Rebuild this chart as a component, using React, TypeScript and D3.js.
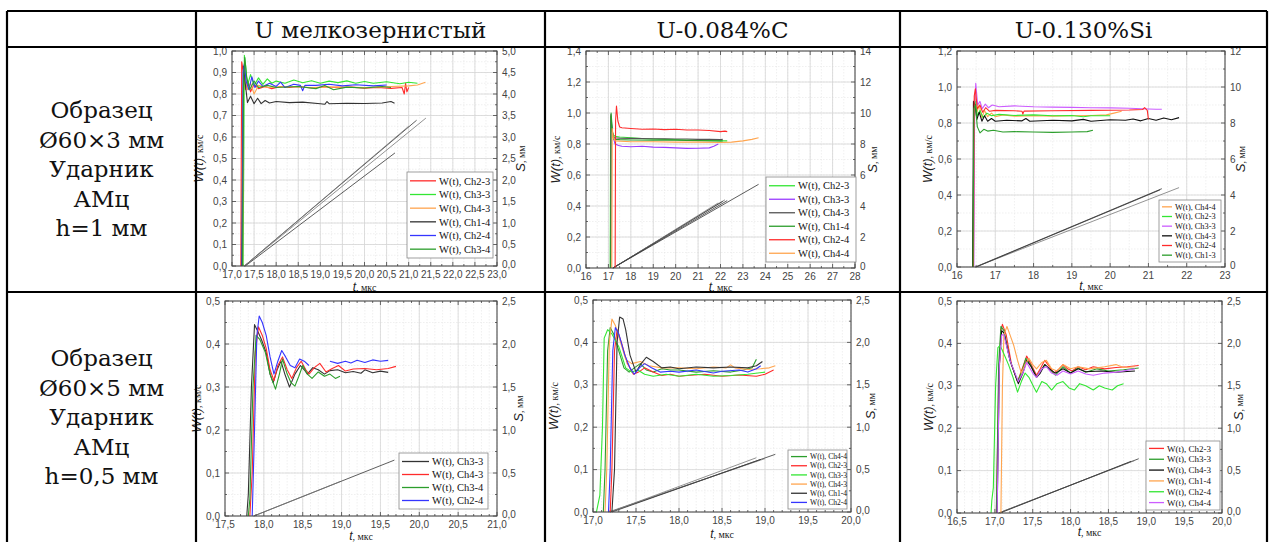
import React, { useRef, useEffect } from 'react';
import * as d3 from 'd3';

type Pt = [number, number];

// header / row captions
const columnTitles = ['U мелкозернистый', 'U-0.084%C', 'U-0.130%Si'];
const rowCaptions = [
  ['Образец', 'Ø60×3 мм', 'Ударник', 'АМц', 'h=1 мм'],
  ['Образец', 'Ø60×5 мм', 'Ударник', 'АМц', 'h=0,5 мм'],
];

// ---- panel 1: U fine grain, 60x3, h=1 ----
const p1Names = ['W(t), Ch2-3', 'W(t), Ch3-3', 'W(t), Ch4-3', 'W(t), Ch1-4', 'W(t), Ch2-4', 'W(t), Ch3-4'];
const p1Ch23: Pt[] = [[17.2,0],[17.21,0.5],[17.22,0.95],[17.26,0.9],[17.3,0.82],[17.36,0.86],[17.42,0.81],[17.5,0.845],[17.6,0.825],[17.75,0.835],[17.9,0.825],[18.1,0.835],[18.3,0.83],[18.5,0.835],[18.8,0.828],[19.1,0.834],[19.4,0.829],[19.7,0.832],[20.0,0.827],[20.3,0.83],[20.6,0.826],[20.85,0.83],[20.9,0.8],[20.93,0.85],[20.96,0.81],[21.0,0.83]];
const p1Ch33: Pt[] = [[17.25,0],[17.27,0.6],[17.28,0.98],[17.31,0.93],[17.35,0.84],[17.42,0.89],[17.5,0.84],[17.6,0.875],[17.7,0.845],[17.8,0.87],[17.9,0.85],[18.0,0.86],[18.2,0.85],[18.4,0.865],[18.6,0.852],[18.8,0.862],[19.0,0.85],[19.2,0.86],[19.4,0.853],[19.6,0.861],[19.8,0.85],[20.0,0.858],[20.2,0.85],[20.5,0.857],[20.8,0.848],[21.0,0.855],[21.2,0.85]];
const p1Ch43: Pt[] = [[17.24,0],[17.26,0.9],[17.3,0.88],[17.35,0.82],[17.42,0.85],[17.5,0.8],[17.6,0.84],[17.8,0.83],[18.2,0.835],[18.8,0.83],[19.4,0.833],[20.0,0.83],[20.6,0.835],[21.0,0.838],[21.2,0.842],[21.38,0.855]];
const p1Ch14: Pt[] = [[17.22,0],[17.24,0.5],[17.26,0.93],[17.3,0.85],[17.35,0.76],[17.42,0.79],[17.5,0.755],[17.58,0.78],[17.66,0.755],[17.75,0.77],[17.85,0.758],[18.0,0.765],[18.3,0.76],[18.6,0.762],[19.0,0.755],[19.1,0.752],[19.15,0.765],[19.2,0.755],[19.6,0.757],[20.0,0.756],[20.4,0.758],[20.6,0.765],[20.68,0.757]];
const p1Ch24: Pt[] = [[17.23,0],[17.25,0.9],[17.28,0.94],[17.32,0.86],[17.38,0.82],[17.45,0.88],[17.52,0.83],[17.6,0.86],[17.7,0.835],[17.85,0.85],[18.0,0.835],[18.1,0.855],[18.2,0.83],[18.4,0.845],[18.55,0.84],[18.6,0.815],[18.65,0.84],[18.9,0.84],[19.2,0.845],[19.5,0.838],[19.8,0.843],[20.2,0.838],[20.5,0.842]];
const p1Ch34: Pt[] = [[17.24,0],[17.26,0.85],[17.29,0.97],[17.33,0.88],[17.4,0.82],[17.5,0.86],[17.6,0.83],[17.8,0.84],[18.0,0.83],[18.5,0.835],[18.9,0.825],[19.1,0.84],[19.3,0.82],[19.6,0.832],[20.0,0.828],[20.4,0.835],[20.6,0.83]];
const p1S: Pt[][] = [[[17.28,0],[21.18,3.39]],[[17.28,0],[21.39,3.44]],[[17.3,0],[20.69,2.63]],[[17.28,0],[21.0,3.25]]];

// ---- panel 2: U-0.084%C, 60x3, h=1 ----
const p2Names = ['W(t), Ch2-3', 'W(t), Ch3-3', 'W(t), Ch4-3', 'W(t), Ch1-4', 'W(t), Ch2-4', 'W(t), Ch4-4'];
const p2Ch23: Pt[] = [[17.08,0],[17.1,0.98],[17.15,0.9],[17.2,0.86],[17.3,0.85],[17.5,0.845],[18,0.84],[18.5,0.835],[19,0.832],[19.5,0.83],[20,0.828],[20.5,0.826],[21,0.825],[21.5,0.823],[22,0.82],[22.3,0.82]];
const p2Ch33: Pt[] = [[17.1,0],[17.12,0.95],[17.2,0.85],[17.3,0.8],[17.45,0.79],[17.6,0.785],[18,0.782],[18.5,0.785],[19,0.78],[19.5,0.778],[20,0.775],[20.5,0.772],[21,0.773],[21.5,0.775],[21.7,0.785],[21.9,0.8]];
const p2Ch43: Pt[] = [[17.09,0],[17.11,0.99],[17.17,0.88],[17.25,0.84],[17.5,0.838],[18,0.836],[18.5,0.835],[19,0.834],[19.5,0.833],[20,0.832],[20.5,0.832],[21,0.83],[21.5,0.83],[22,0.828],[22.1,0.83]];
const p2Ch14: Pt[] = [[17.1,0],[17.12,1.0],[17.18,0.88],[17.25,0.83],[17.5,0.828],[18,0.826],[19,0.825],[20,0.824],[21,0.822],[21.5,0.82],[22,0.82],[22.1,0.82]];
const p2Ch24: Pt[] = [[17.3,0],[17.32,0.95],[17.36,1.045],[17.42,0.95],[17.5,0.91],[17.6,0.905],[18,0.9],[18.5,0.895],[19,0.897],[19.5,0.893],[20,0.895],[20.5,0.89],[21,0.89],[21.5,0.887],[22,0.88],[22.2,0.883],[22.3,0.88]];
const p2Ch44: Pt[] = [[17.15,0],[17.17,0.9],[17.22,0.84],[17.3,0.82],[18,0.815],[19,0.815],[20,0.812],[21,0.812],[22,0.81],[22.5,0.812],[23,0.82],[23.4,0.83],[23.7,0.84]];
const p2S: Pt[][] = [[[17.2,0],[23.7,5.4]],[[17.2,0],[22.2,4.4]],[[17.2,0],[22.1,4.3]],[[17.22,0],[21.9,4.2]],[[17.2,0],[22.3,4.35]]];

// ---- panel 3: U-0.130%Si, 60x3, h=1 ----
const p3Names = ['W(t), Ch4-4', 'W(t), Ch2-3', 'W(t), Ch3-3', 'W(t), Ch4-3', 'W(t), Ch2-4', 'W(t), Ch1-3'];
const p3Ch44: Pt[] = [[16.42,0],[16.44,0.9],[16.47,0.96],[16.52,0.86],[16.58,0.9],[16.65,0.83],[16.72,0.87],[16.8,0.835],[16.9,0.855],[17.0,0.835],[17.2,0.845],[17.5,0.838],[18,0.84],[18.5,0.838],[19,0.84],[19.5,0.842],[19.9,0.845],[20.1,0.855],[20.3,0.865]];
const p3Ch23: Pt[] = [[16.42,0],[16.44,0.85],[16.48,0.92],[16.53,0.84],[16.6,0.87],[16.68,0.83],[16.78,0.855],[16.9,0.84],[17.1,0.848],[17.5,0.842],[18,0.845],[18.5,0.84],[19,0.842],[19.3,0.835],[19.5,0.84],[20,0.84]];
const p3Ch33: Pt[] = [[16.44,0],[16.46,0.9],[16.49,1.02],[16.54,0.9],[16.6,0.92],[16.66,0.88],[16.74,0.905],[16.82,0.885],[16.92,0.9],[17.1,0.89],[17.5,0.895],[18,0.89],[18.5,0.888],[19,0.887],[19.5,0.885],[20,0.884],[20.5,0.882],[21,0.878],[21.2,0.876],[21.35,0.876]];
const p3Ch43: Pt[] = [[16.41,0],[16.43,0.92],[16.47,0.9],[16.52,0.82],[16.58,0.86],[16.65,0.81],[16.72,0.84],[16.8,0.81],[16.9,0.825],[17.0,0.81],[17.3,0.815],[17.7,0.812],[17.8,0.825],[17.9,0.81],[18.5,0.815],[19,0.812],[19.3,0.82],[19.5,0.81],[20,0.818],[20.4,0.815],[20.6,0.822],[20.8,0.812],[21.0,0.825],[21.2,0.815],[21.4,0.828],[21.6,0.818],[21.8,0.83]];
const p3Ch24: Pt[] = [[16.43,0],[16.45,0.95],[16.48,0.99],[16.53,0.88],[16.6,0.9],[16.67,0.86],[16.75,0.885],[16.85,0.865],[17,0.87],[17.5,0.868],[17.7,0.865],[17.72,0.85],[17.75,0.866],[18.5,0.868],[19.5,0.87],[20.5,0.872],[20.85,0.875],[20.9,0.885],[20.97,0.87],[21.0,0.82]];
const p3Ch13: Pt[] = [[16.42,0],[16.44,0.88],[16.48,0.9],[16.53,0.78],[16.6,0.745],[16.7,0.765],[16.8,0.755],[16.95,0.76],[17.2,0.75],[17.5,0.752],[18,0.75],[18.5,0.748],[19,0.75],[19.4,0.752],[19.55,0.76]];
const p3S: Pt[][] = [[[16.48,0],[21.35,4.35]],[[16.48,0],[21.8,4.41]],[[16.5,0],[21.3,4.28]]];

// ---- panel 4: U fine grain, 60x5, h=0.5 ----
const p4Names = ['W(t), Ch3-3', 'W(t), Ch4-3', 'W(t), Ch3-4', 'W(t), Ch2-4'];
const p4Ch33: Pt[] = [[17.78,0],[17.8,0.05],[17.84,0.3],[17.88,0.445],[17.92,0.43],[17.97,0.41],[18.03,0.38],[18.08,0.33],[18.12,0.31],[18.17,0.34],[18.22,0.36],[18.27,0.33],[18.33,0.3],[18.4,0.33],[18.47,0.35],[18.52,0.34],[18.56,0.33],[18.63,0.345],[18.7,0.34],[18.78,0.33],[18.85,0.338],[18.95,0.34],[19.05,0.333],[19.15,0.336],[19.25,0.332],[19.3,0.34],[19.4,0.333],[19.5,0.337],[19.6,0.334]];
const p4Ch43: Pt[] = [[17.82,0],[17.85,0.1],[17.89,0.38],[17.93,0.44],[17.98,0.42],[18.03,0.39],[18.08,0.34],[18.13,0.315],[18.18,0.35],[18.24,0.37],[18.3,0.34],[18.36,0.32],[18.42,0.345],[18.48,0.36],[18.54,0.34],[18.58,0.33],[18.65,0.345],[18.72,0.355],[18.8,0.335],[18.88,0.343],[18.96,0.35],[19.05,0.337],[19.15,0.342],[19.3,0.343],[19.45,0.34],[19.6,0.343],[19.7,0.348]];
const p4Ch34: Pt[] = [[17.8,0],[17.82,0.04],[17.86,0.3],[17.9,0.42],[17.95,0.41],[18.02,0.38],[18.08,0.33],[18.15,0.295],[18.2,0.33],[18.24,0.365],[18.3,0.33],[18.35,0.31],[18.4,0.302],[18.45,0.325],[18.5,0.35],[18.56,0.33],[18.62,0.32],[18.7,0.335],[18.78,0.325],[18.85,0.33],[18.92,0.32],[18.98,0.325]];
const p4Ch24: Pt[] = [[17.85,0],[17.88,0.2],[17.91,0.42],[17.94,0.465],[17.98,0.45],[18.03,0.42],[18.08,0.37],[18.13,0.33],[18.18,0.36],[18.23,0.385],[18.28,0.37],[18.34,0.35],[18.4,0.345],[18.46,0.365],[18.52,0.36],[18.58,0.35],[NaN,NaN],[18.85,0.36],[18.95,0.355],[19.05,0.36],[19.12,0.356],[19.2,0.362],[19.3,0.357],[19.4,0.363],[19.5,0.36],[19.6,0.362]];
const p4S: Pt[][] = [[[17.87,0],[19.68,0.65]],[[17.87,0],[18.98,0.4]]];

// ---- panel 5: U-0.084%C, 60x5, h=0.5 ----
const p5Names = ['W(t), Ch4-4', 'W(t), Ch2-3', 'W(t), Ch3-3', 'W(t), Ch4-3', 'W(t), Ch1-4', 'W(t), Ch2-4'];
const p5Ch44: Pt[] = [[17.12,0],[17.14,0.1],[17.17,0.38],[17.2,0.435],[17.24,0.42],[17.3,0.38],[17.36,0.34],[17.42,0.33],[17.48,0.34],[17.55,0.35],[17.62,0.335],[17.7,0.33],[17.8,0.338],[17.9,0.335],[18.0,0.335],[18.2,0.33],[18.4,0.333],[18.6,0.33],[18.75,0.335],[18.85,0.34],[18.9,0.36]];
const p5Ch23: Pt[] = [[17.2,0],[17.22,0.1],[17.25,0.38],[17.28,0.43],[17.33,0.4],[17.4,0.35],[17.47,0.325],[17.53,0.33],[17.6,0.34],[17.7,0.33],[17.8,0.322],[17.9,0.325],[18.0,0.32],[18.1,0.322],[18.3,0.325],[18.5,0.32],[18.7,0.323],[18.9,0.32],[19.0,0.325],[19.1,0.335]];
const p5Ch33: Pt[] = [[17.04,0],[17.08,0.04],[17.11,0.2],[17.13,0.41],[17.17,0.43],[17.22,0.42],[17.3,0.39],[17.38,0.34],[17.45,0.33],[17.52,0.335],[17.6,0.325],[17.7,0.32],[17.85,0.325],[18.0,0.32],[18.2,0.325],[18.4,0.32],[18.6,0.322],[18.8,0.325],[19.0,0.33]];
const p5Ch43: Pt[] = [[17.14,0],[17.16,0.1],[17.19,0.4],[17.22,0.455],[17.26,0.44],[17.32,0.4],[17.38,0.36],[17.45,0.35],[17.55,0.355],[17.65,0.345],[17.8,0.34],[18.0,0.34],[18.2,0.338],[18.4,0.342],[18.55,0.34],[18.6,0.347],[18.65,0.34],[18.8,0.336],[18.95,0.338],[19.05,0.34],[19.12,0.345]];
const p5Ch14: Pt[] = [[17.22,0],[17.25,0.1],[17.28,0.4],[17.31,0.46],[17.35,0.455],[17.38,0.43],[17.43,0.37],[17.5,0.33],[17.56,0.35],[17.62,0.365],[17.7,0.355],[17.8,0.34],[17.9,0.342],[18.0,0.338],[18.2,0.342],[18.4,0.34],[18.6,0.342],[18.8,0.34],[18.9,0.345],[18.97,0.355]];
const p5Ch24: Pt[] = [[17.18,0],[17.2,0.1],[17.23,0.38],[17.26,0.435],[17.3,0.42],[17.37,0.37],[17.43,0.34],[17.48,0.325],[17.54,0.34],[17.6,0.35],[17.68,0.34],[17.78,0.33],[17.9,0.332],[18.0,0.33],[18.2,0.335],[18.4,0.328],[18.5,0.332],[18.7,0.335],[18.8,0.33],[18.9,0.338],[18.95,0.345]];
const p5S: Pt[][] = [[[17.2,0],[19.12,0.68]],[[17.18,0],[19.0,0.63]],[[17.22,0],[18.95,0.62]],[[17.2,0],[18.9,0.64]]];

// ---- panel 6: U-0.130%Si, 60x5, h=0.5 ----
const p6Names = ['W(t), Ch2-3', 'W(t), Ch3-3', 'W(t), Ch4-3', 'W(t), Ch1-4', 'W(t), Ch2-4', 'W(t), Ch4-4'];
const p6Ch23: Pt[] = [[17.02,0],[17.05,0.3],[17.08,0.43],[17.1,0.445],[17.15,0.42],[17.22,0.35],[17.3,0.31],[17.36,0.34],[17.42,0.37],[17.48,0.35],[17.55,0.325],[17.6,0.34],[17.66,0.36],[17.72,0.345],[17.78,0.33],[17.85,0.34],[17.9,0.35],[17.96,0.34],[18.02,0.335],[18.1,0.345],[18.2,0.338],[18.3,0.345],[18.45,0.34],[18.6,0.343],[18.75,0.345],[18.9,0.348]];
const p6Ch33: Pt[] = [[17.02,0],[17.05,0.35],[17.08,0.44],[17.12,0.43],[17.2,0.36],[17.3,0.31],[17.36,0.335],[17.41,0.365],[17.47,0.35],[17.55,0.32],[17.6,0.335],[17.66,0.35],[17.72,0.34],[17.8,0.325],[17.9,0.345],[18.0,0.33],[18.1,0.342],[18.2,0.332],[18.35,0.34],[18.5,0.335],[18.7,0.338],[18.9,0.342]];
const p6Ch43: Pt[] = [[17.03,0],[17.06,0.35],[17.09,0.43],[17.12,0.425],[17.2,0.36],[17.31,0.305],[17.37,0.33],[17.42,0.36],[17.48,0.345],[17.55,0.32],[17.6,0.33],[17.66,0.35],[17.72,0.34],[17.8,0.33],[17.9,0.34],[18.0,0.33],[18.1,0.34],[18.2,0.333],[18.4,0.335],[18.6,0.332],[18.85,0.335]];
const p6Ch14: Pt[] = [[17.08,0],[17.1,0.3],[17.12,0.42],[17.16,0.44],[17.2,0.42],[17.25,0.395],[17.3,0.36],[17.35,0.33],[17.4,0.35],[17.45,0.365],[17.5,0.35],[17.55,0.34],[17.62,0.355],[17.68,0.36],[17.75,0.34],[17.82,0.335],[17.9,0.35],[18.0,0.34],[18.1,0.345],[18.25,0.34],[18.45,0.345],[18.6,0.35],[18.7,0.343],[18.85,0.345]];
const p6Ch24: Pt[] = [[16.95,0],[16.96,0.03],[16.98,0.06],[17.01,0.3],[17.04,0.39],[17.07,0.395],[17.12,0.375],[17.18,0.35],[17.24,0.32],[17.3,0.285],[17.35,0.31],[17.4,0.33],[17.45,0.32],[17.52,0.295],[17.55,0.285],[17.62,0.31],[17.68,0.305],[17.75,0.29],[17.82,0.305],[17.9,0.31],[17.98,0.295],[18.05,0.29],[18.12,0.305],[18.2,0.3],[18.3,0.29],[18.38,0.3],[18.45,0.295],[18.55,0.29],[18.62,0.3],[18.7,0.305]];
const p6Ch44: Pt[] = [[17.03,0],[17.06,0.35],[17.09,0.42],[17.12,0.42],[17.2,0.36],[17.31,0.31],[17.37,0.33],[17.42,0.355],[17.5,0.33],[17.55,0.32],[17.62,0.34],[17.68,0.345],[17.75,0.33],[17.82,0.325],[17.9,0.335],[18.0,0.328],[18.1,0.335],[18.2,0.328],[18.3,0.325],[18.45,0.33],[18.6,0.332],[18.85,0.34]];
const p6S: Pt[][] = [[[17.05,0],[18.9,0.64]],[[17.05,0],[18.85,0.62]],[[17.07,0],[18.8,0.61]]];

const RED = '#ff2b2b', LIME = '#33e633', ORANGE = '#ffa54f', DARK = '#333333',
  BLUE = '#3535ff', GREEN = '#2c9e2c', PURPLE = '#9a3cff', VIOLET = '#cc5cff', GREY = '#555555';

const panels = [
  { box: { l: 232, r: 497, t: 51, b: 266 }, x: [17, 23], xStep: 0.5, xMinor: 0.25, xDec: 1,
    yL: [0, 1], yStep: 0.1, yDec: 1, yR: [0, 5], rStep: 0.5, rDec: 1,
    series: [p1Ch23, p1Ch33, p1Ch43, p1Ch14, p1Ch24, p1Ch34], names: p1Names,
    colors: [RED, LIME, ORANGE, DARK, BLUE, GREEN], s: p1S,
    leg: { x: 407, y: 172, w: 86, h: 86, font: 10.5, sample: 26 }, lab: { w: 29, s: 28, t: 22 } },
  { box: { l: 586, r: 855, t: 51, b: 268 }, x: [16, 28], xStep: 1, xMinor: 0.5, xDec: 0,
    yL: [0, 1.4], yStep: 0.2, yDec: 1, yR: [0, 14], rStep: 2, rDec: 0,
    series: [p2Ch23, p2Ch33, p2Ch43, p2Ch14, p2Ch24, p2Ch44], names: p2Names,
    colors: [LIME, PURPLE, GREY, GREEN, RED, ORANGE], s: p2S,
    leg: { x: 766, y: 177, w: 90, h: 85, font: 10.5, sample: 26 }, lab: { w: 26, s: 22, t: 20 } },
  { box: { l: 957, r: 1225, t: 51, b: 267 }, x: [16, 23], xStep: 1, xMinor: 0.5, xDec: 0,
    yL: [0, 1.2], yStep: 0.2, yDec: 1, yR: [0, 12], rStep: 2, rDec: 0,
    series: [p3Ch44, p3Ch23, p3Ch33, p3Ch43, p3Ch24, p3Ch13], names: p3Names,
    colors: [ORANGE, LIME, VIOLET, '#111111', RED, GREEN], s: p3S,
    leg: { x: 1159, y: 200, w: 62, h: 62, font: 8.3, sample: 10 }, lab: { w: 25, s: 20, t: 20 } },
  { box: { l: 225, r: 497, t: 301, b: 516 }, x: [17.5, 21], xStep: 0.5, xMinor: 0.1, xDec: 1,
    yL: [0, 0.5], yStep: 0.1, yDec: 1, yR: [0, 2.5], rStep: 0.5, rDec: 1,
    series: [p4Ch33, p4Ch43, p4Ch34, p4Ch24], names: p4Names,
    colors: [DARK, RED, GREEN, BLUE], s: p4S,
    leg: { x: 399, y: 453, w: 89, h: 56, font: 10.5, sample: 27 }, lab: { w: 24, s: 26, t: 21 } },
  { box: { l: 593, r: 851, t: 300, b: 512 }, x: [17, 20], xStep: 0.5, xMinor: 0.1, xDec: 1,
    yL: [0, 0.5], yStep: 0.1, yDec: 1, yR: [0, 2.5], rStep: 0.5, rDec: 1,
    series: [p5Ch44, p5Ch23, p5Ch33, p5Ch43, p5Ch14, p5Ch24], names: p5Names,
    colors: [GREEN, RED, LIME, ORANGE, DARK, BLUE], s: p5S,
    leg: { x: 788, y: 450, w: 59, h: 59, font: 7.6, sample: 16 }, lab: { w: 35, s: 24, t: 23 } },
  { box: { l: 957, r: 1222, t: 301, b: 513 }, x: [16.5, 20], xStep: 0.5, xMinor: 0.1, xDec: 1,
    yL: [0, 0.5], yStep: 0.1, yDec: 1, yR: [0, 2.5], rStep: 0.5, rDec: 1,
    series: [p6Ch23, p6Ch33, p6Ch43, p6Ch14, p6Ch24, p6Ch44], names: p6Names,
    colors: [RED, GREEN, '#111111', ORANGE, LIME, VIOLET], s: p6S,
    leg: { x: 1146, y: 441, w: 74, h: 69, font: 9, sample: 15 }, lab: { w: 24, s: 21, t: 20 } },
];

const fmt = (dec: number) => (v: number) => d3.format(`.${dec}f`)(v).replace('.', ',');
const steps = (a: number, b: number, st: number) => d3.range(0, Math.round((b - a) / st) + 1).map(i => a + i * st);

const App = () => {
  const ref = useRef<SVGSVGElement>(null);

  useEffect(() => {
    const svg = d3.select(ref.current);
    svg.selectAll('*').remove();
    svg.append('rect').attr('width', 1275).attr('height', 542).attr('fill', '#fff');

    panels.forEach(p => {
      const { l, r, t, b } = p.box;
      const x = d3.scaleLinear().domain(p.x).range([l, r]);
      const y = d3.scaleLinear().domain(p.yL).range([b, t]);
      const yr = d3.scaleLinear().domain(p.yR).range([b, t]);
      const g = svg.append('g');

      // grid
      const xMaj = steps(p.x[0], p.x[1], p.xStep);
      const xMin = steps(p.x[0], p.x[1], p.xMinor);
      const yMaj = steps(p.yL[0], p.yL[1], p.yStep);
      const yMin = steps(p.yL[0], p.yL[1], p.yStep / 2);
      g.selectAll('.gxm').data(xMin).join('line').attr('x1', d => x(d)).attr('x2', d => x(d))
        .attr('y1', t).attr('y2', b).attr('stroke', '#e6e6e6').attr('stroke-width', 0.6).attr('stroke-dasharray', '1.5,1.5');
      g.selectAll('.gym').data(yMin).join('line').attr('y1', d => y(d)).attr('y2', d => y(d))
        .attr('x1', l).attr('x2', r).attr('stroke', '#e6e6e6').attr('stroke-width', 0.6).attr('stroke-dasharray', '1.5,1.5');
      g.selectAll('.gx').data(xMaj).join('line').attr('x1', d => x(d)).attr('x2', d => x(d))
        .attr('y1', t).attr('y2', b).attr('stroke', '#d5d5d5').attr('stroke-width', 0.8);
      g.selectAll('.gy').data(yMaj).join('line').attr('y1', d => y(d)).attr('y2', d => y(d))
        .attr('x1', l).attr('x2', r).attr('stroke', '#d5d5d5').attr('stroke-width', 0.8);

      // ticks
      const tk = g.append('g').attr('stroke', '#444').attr('stroke-width', 0.8);
      xMin.forEach(v => {
        const len = xMaj.some(m => Math.abs(m - v) < 1e-9) ? 4 : 2;
        tk.append('line').attr('x1', x(v)).attr('x2', x(v)).attr('y1', b).attr('y2', b - len);
        tk.append('line').attr('x1', x(v)).attr('x2', x(v)).attr('y1', t).attr('y2', t + len);
      });
      yMin.forEach(v => {
        const len = yMaj.some(m => Math.abs(m - v) < 1e-9) ? 4 : 2;
        tk.append('line').attr('y1', y(v)).attr('y2', y(v)).attr('x1', l).attr('x2', l + len);
        tk.append('line').attr('y1', y(v)).attr('y2', y(v)).attr('x1', r).attr('x2', r - len);
      });

      // tick labels
      const lab = g.append('g').attr('font-family', 'Liberation Sans, Arial, sans-serif').attr('font-size', 10).attr('fill', '#444');
      xMaj.forEach(v => lab.append('text').attr('x', x(v)).attr('y', b + 11.5).attr('text-anchor', 'middle').text(fmt(p.xDec)(v)));
      yMaj.forEach(v => lab.append('text').attr('x', l - 5).attr('y', y(v) + 3.5).attr('text-anchor', 'end').text(fmt(p.yDec)(v)));
      steps(p.yR[0], p.yR[1], p.rStep).forEach(v => lab.append('text').attr('x', r + 5).attr('y', yr(v) + (v === p.yR[0] ? 2 : 3.5)).text(fmt(p.rDec)(v)));

      // axis titles
      const my = (t + b) / 2;
      const wt = g.append('text').attr('transform', `translate(${l - p.lab.w},${my}) rotate(-90)`).attr('text-anchor', 'middle').attr('fill', '#222');
      wt.append('tspan').attr('font-family', 'Liberation Sans, Arial').attr('font-style', 'italic').attr('font-size', 13).text('W(t)');
      wt.append('tspan').attr('font-family', 'Liberation Serif').attr('font-size', 10).text(', км/с');
      const st = g.append('text').attr('transform', `translate(${r + p.lab.s},${my}) rotate(-90)`).attr('text-anchor', 'middle').attr('fill', '#222');
      st.append('tspan').attr('font-family', 'Liberation Sans, Arial').attr('font-style', 'italic').attr('font-size', 13).text('S');
      st.append('tspan').attr('font-family', 'Liberation Serif').attr('font-size', 10).text(', мм');
      const tt = g.append('text').attr('x', (l + r) / 2).attr('y', b + p.lab.t + 3).attr('text-anchor', 'middle').attr('fill', '#222');
      tt.append('tspan').attr('font-family', 'Liberation Sans, Arial').attr('font-style', 'italic').attr('font-size', 12).text('t');
      tt.append('tspan').attr('font-family', 'Liberation Serif').attr('font-size', 10).text(', мкс');

      // S(t) lines
      const sLine = d3.line<Pt>().x(d => x(d[0])).y(d => yr(d[1]));
      p.s.forEach((d, i) => g.append('path').attr('d', sLine(d)).attr('fill', 'none')
        .attr('stroke', i % 2 ? '#777' : '#333').attr('stroke-width', 0.8));

      // W(t) curves
      const wLine = d3.line<Pt>().defined(d => !isNaN(d[0])).x(d => x(d[0])).y(d => y(d[1]));
      p.series.forEach((d, i) => g.append('path').attr('d', wLine(d)).attr('fill', 'none')
        .attr('stroke', p.colors[i]).attr('stroke-width', 1.1).attr('stroke-linejoin', 'round'));

      // frame
      g.append('rect').attr('x', l).attr('y', t).attr('width', r - l).attr('height', b - t)
        .attr('fill', 'none').attr('stroke', '#444').attr('stroke-width', 1);

      // legend
      const L = p.leg;
      const lg = g.append('g');
      lg.append('rect').attr('x', L.x).attr('y', L.y).attr('width', L.w).attr('height', L.h)
        .attr('fill', '#fff').attr('stroke', '#888').attr('stroke-width', 0.8);
      const rowH = (L.h - 4) / p.names.length;
      p.names.forEach((nm, i) => {
        const cy = L.y + 2 + rowH * (i + 0.5);
        lg.append('line').attr('x1', L.x + 3).attr('x2', L.x + 3 + L.sample).attr('y1', cy).attr('y2', cy)
          .attr('stroke', p.colors[i]).attr('stroke-width', 1.3);
        lg.append('text').attr('x', L.x + 6 + L.sample).attr('y', cy + L.font * 0.35)
          .attr('font-family', 'Liberation Serif, serif').attr('font-size', L.font).attr('fill', '#111').text(nm);
      });
    });

    // table
    const tg = svg.append('g').attr('stroke', '#000').attr('stroke-width', 2.2);
    const cols = [7, 196, 545, 900, 1267];
    const rows = [11, 47, 292, 543];
    cols.forEach(c => tg.append('line').attr('x1', c).attr('x2', c).attr('y1', rows[0]).attr('y2', 544));
    rows.forEach(rw => tg.append('line').attr('x1', cols[0]).attr('x2', cols[4]).attr('y1', rw).attr('y2', rw));

    const txt = svg.append('g').attr('font-family', 'DejaVu Serif, serif').attr('fill', '#111').attr('text-anchor', 'middle');
    columnTitles.forEach((s, i) => txt.append('text').attr('x', (cols[i + 1] + cols[i + 2]) / 2).attr('y', 37.5)
      .attr('font-size', 23).text(s));
    rowCaptions.forEach((lines, ri) => {
      const cy = (rows[ri + 1] + rows[ri + 2]) / 2;
      lines.forEach((s, i) => txt.append('text').attr('x', (cols[0] + cols[1]) / 2)
        .attr('y', cy + (i - 2) * 29.5 + 7.5).attr('font-size', 23).text(s));
    });
  }, []);

  return <svg ref={ref} width={1275} height={542} style={{ position: 'absolute', left: 0, top: 0 }} />;
};

export default App;
